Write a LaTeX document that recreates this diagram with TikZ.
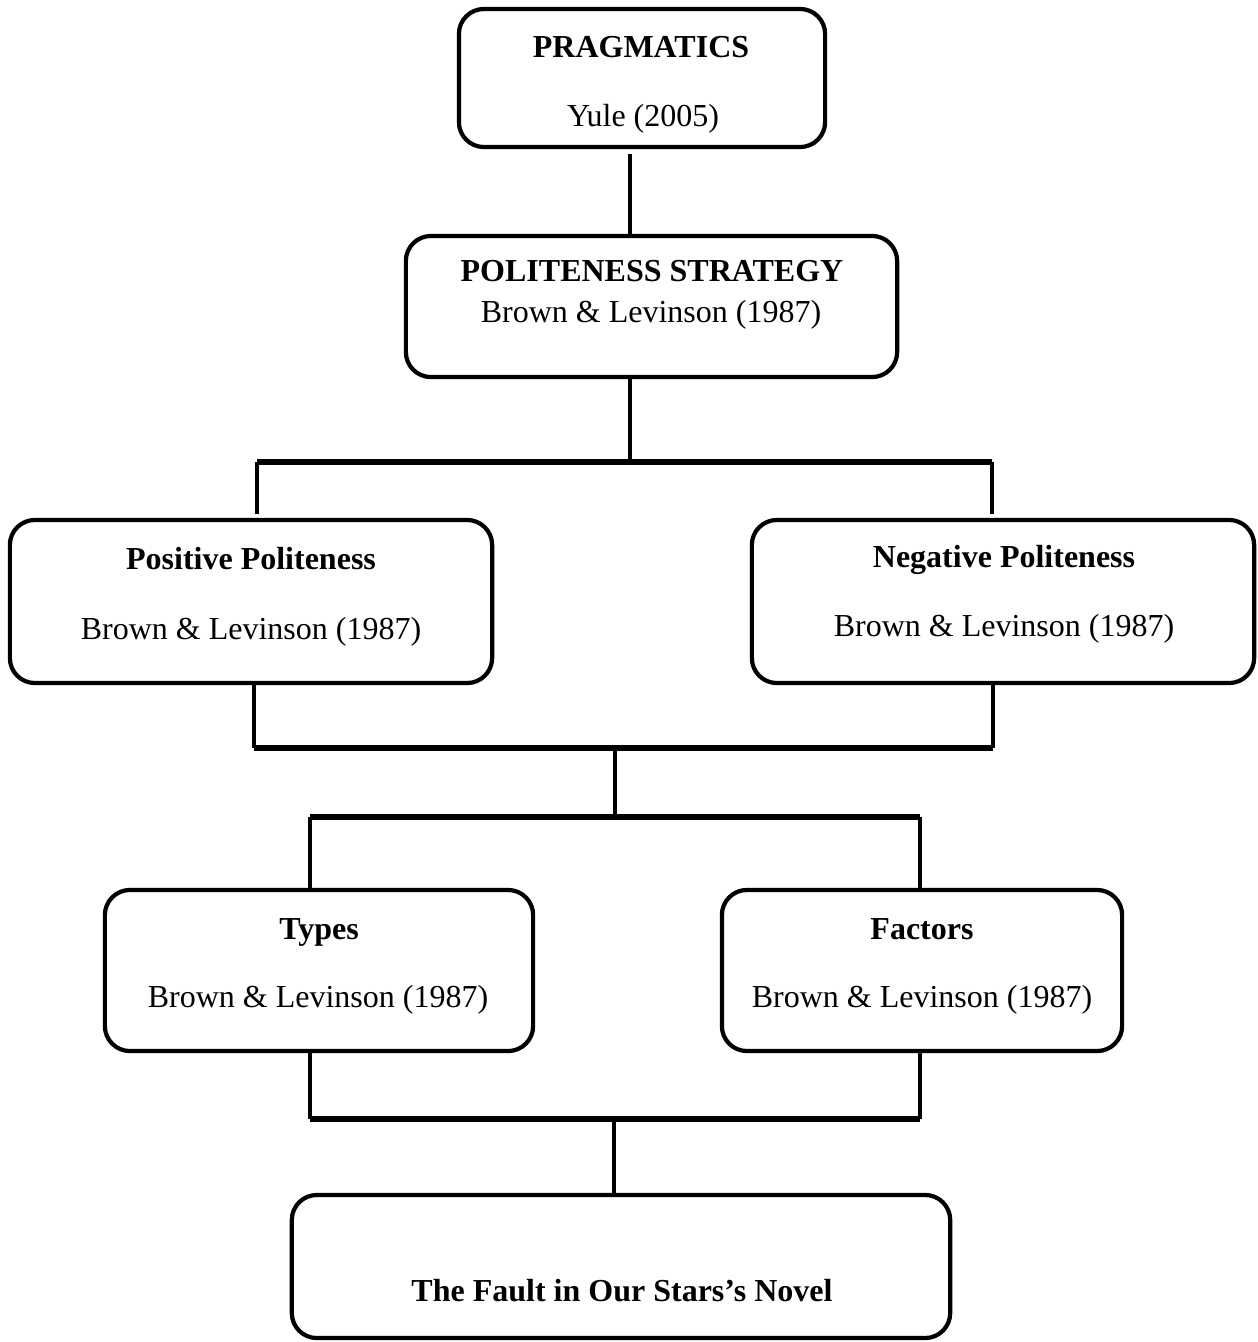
\documentclass[tikz,border=0pt]{standalone}
\usepackage{fontspec}
\setmainfont{Liberation Serif}
\usetikzlibrary{positioning}

\tikzset{
  box/.style={draw, line width=1.2pt, rounded corners=0.25cm, inner sep=0pt},
  link/.style={line width=0.9pt},
  bar/.style={line width=1.5pt},
  head/.style={font=\fontsize{9.1}{11}\selectfont\bfseries, text height=0.7em, text depth=0.2em},
  cite/.style={font=\fontsize{9.1}{11}\selectfont, text height=0.7em, text depth=0.2em}
}

\begin{document}
\begin{tikzpicture}[x=0.01cm, y=-0.01cm]

\useasboundingbox (0,0) rectangle (1257,1342);

% ========================
% BOXES
% ========================

\node[box, minimum width=3.66cm, minimum height=1.38cm] (prag) at (642,78) {};
\node[box, minimum width=4.91cm, minimum height=1.41cm] (strat) at (651.5,306.5) {};

\node[box, minimum width=4.82cm, minimum height=1.63cm] (pos) at (251,601.5) {};
\node[box, minimum width=5.02cm, minimum height=1.63cm] (neg) at (1003,601.5) {};

\node[box, minimum width=4.28cm, minimum height=1.61cm] (types) at (319,970.5) {};
\node[box, minimum width=4.00cm, minimum height=1.61cm] (fact) at (922,970.5) {};

\node[box, minimum width=6.58cm, minimum height=1.43cm] (fault) at (621,1266.5) {};

% ========================
% TEXTS
% ========================

\node[head] (pragT) at (641,49) {PRAGMATICS};
\node[cite] (pragY) at (643,118) {Yule (2005)};

\node[head] (stratT) at (652,273) {POLITENESS STRATEGY};
\node[cite] (stratY) at (651,314) {Brown \& Levinson (1987)};

\node[head] (posT) at (251,561) {Positive Politeness};
\node[cite] (posY) at (251,631) {Brown \& Levinson (1987)};

\node[head] (negT) at (1004,559) {Negative Politeness};
\node[cite] (negY) at (1004,628) {Brown \& Levinson (1987)};

\node[head] (typesT) at (319,931) {Types};
\node[cite] (typesY) at (318,999) {Brown \& Levinson (1987)};

\node[head] (factT) at (922,931) {Factors};
\node[cite] (factY) at (922,999) {Brown \& Levinson (1987)};

\node[head] (faultT) at (622,1293) {The Fault in Our Stars’s Novel};

% ========================
% CONNECTORS
% ========================

% junction points
\coordinate (j1) at (630,462);
\coordinate (b1l) at (257,462);
\coordinate (b1r) at (992,462);

\coordinate (b2l) at (254,748);
\coordinate (b2r) at (993,748);
\coordinate (j2) at (615,748);

\coordinate (b3l) at (310,817);
\coordinate (b3r) at (920,817);
\coordinate (j3) at (615,817);

\coordinate (b4l) at (310,1119);
\coordinate (b4r) at (920,1119);
\coordinate (j4) at (614,1119);

% pragmatics -> strategy -> split
\draw[link] ([yshift=-1.5pt]j1 |- prag.south) -- (j1 |- strat.north);
\draw[link] (j1 |- strat.south) -- (j1);
\draw[bar] (b1l) -- (b1r);
\draw[link] (b1l) -- ([yshift=1pt]b1l |- pos.north);
\draw[link] (b1r) -- ([yshift=1pt]b1r |- neg.north);

% positive / negative -> join
\draw[link] (b2l |- pos.south) -- (b2l);
\draw[link] (b2r |- neg.south) -- (b2r);
\draw[bar] (b2l) -- (b2r);
\draw[link] (j2) -- (j3);

% split to types / factors
\draw[bar] (b3l) -- (b3r);
\draw[link] (b3l) -- (b3l |- types.north);
\draw[link] (b3r) -- (b3r |- fact.north);

% types / factors -> join -> novel
\draw[link] (b4l |- types.south) -- (b4l);
\draw[link] (b4r |- fact.south) -- (b4r);
\draw[bar] (b4l) -- (b4r);
\draw[link] (j4) -- (j4 |- fault.north);

\end{tikzpicture}
\end{document}
